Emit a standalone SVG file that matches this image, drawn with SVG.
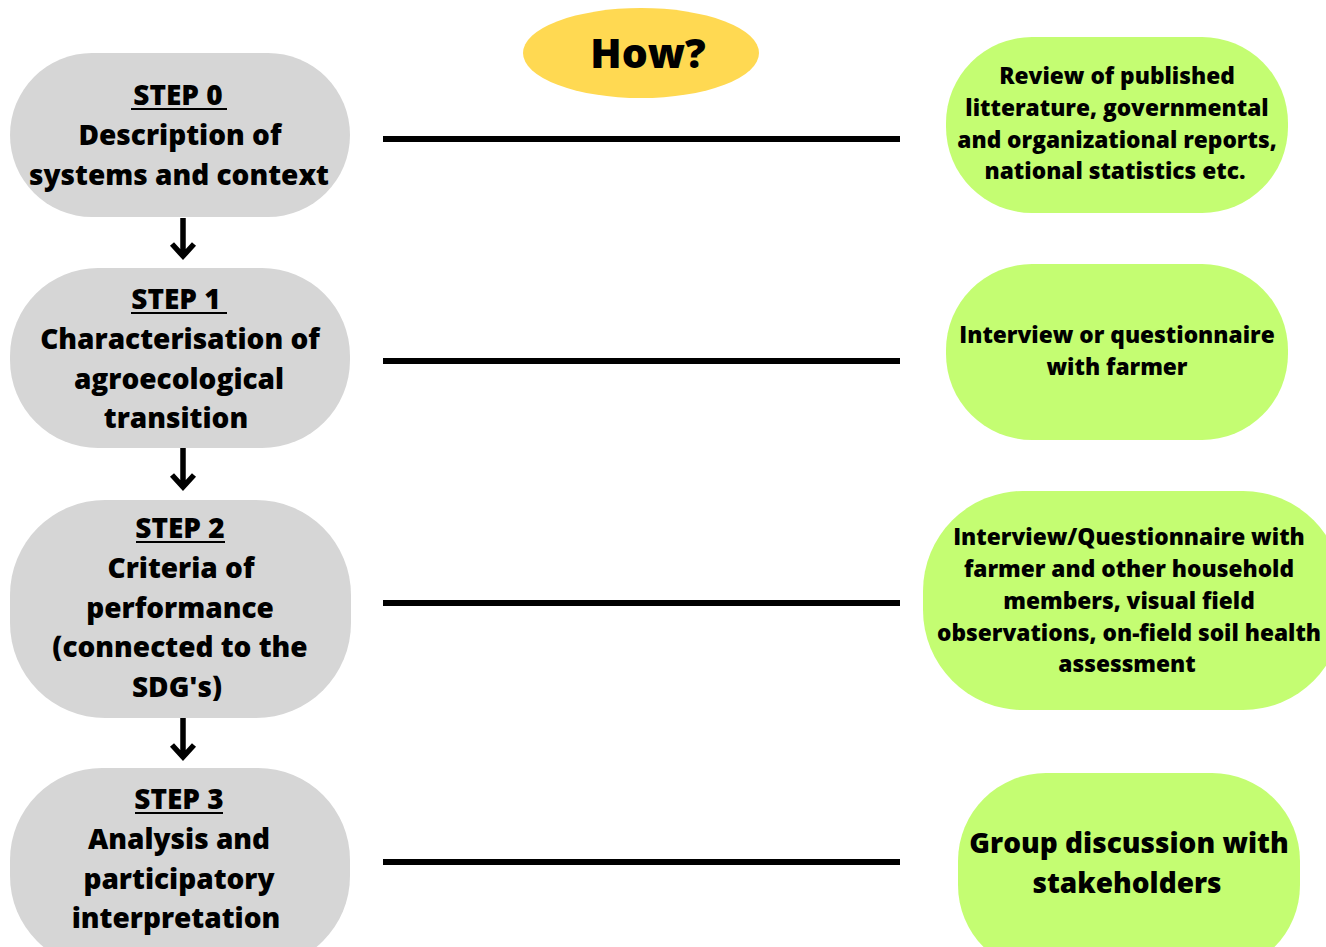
<svg xmlns="http://www.w3.org/2000/svg" width="1326" height="947" viewBox="0 0 1326 947">
<style>
text{font-family:"Open Sans","DejaVu Sans",sans-serif;font-weight:800;fill:#000;text-anchor:middle}
.st{font-size:28px}
.rt{font-size:22.7px}
.big{font-size:28px}
.step{fill:#d6d6d6}
.meth{fill:#c4fd72}
.ul{stroke:#000;stroke-width:2}
.link{stroke:#000;stroke-width:6}
.arr{stroke:#000;stroke-width:5.5;fill:none;stroke-linecap:butt}
</style>
<rect width="1326" height="947" fill="#fff"/>
<g id="how">
<ellipse cx="641" cy="53" rx="118" ry="45" fill="#ffd952"/>
<text x="648" y="68" style="font-size:41px">How?</text>
</g>
<g id="step0">
<rect class="step" x="10" y="53" width="340" height="164" rx="82" fill="#dadada"/>
<text class="st" x="178" y="105">STEP 0</text>
<line class="ul" x1="131" y1="109" x2="227" y2="109"/>
<text class="st" x="180" y="145">Description of</text>
<text class="st" x="179" y="185">systems and context</text>
</g>
<g id="step1">
<rect class="step" x="10" y="268" width="340" height="180" rx="88"/>
<text class="st" x="176" y="309">STEP 1</text>
<line class="ul" x1="131" y1="313" x2="227" y2="313"/>
<text class="st" x="180" y="349">Characterisation of</text>
<text class="st" x="179" y="389">agroecological</text>
<text class="st" x="176" y="428">transition</text>
</g>
<g id="step2">
<rect class="step" x="10" y="500" width="341" height="218" rx="95"/>
<text class="st" x="180" y="538">STEP 2</text>
<line class="ul" x1="136" y1="542" x2="225" y2="542"/>
<text class="st" x="181" y="578">Criteria of</text>
<text class="st" x="180" y="618">performance</text>
<text class="st" x="180" y="657">(connected to the</text>
<text class="st" x="177" y="697">SDG's)</text>
</g>
<g id="step3">
<rect class="step" x="10" y="768" width="340" height="200" rx="92"/>
<text class="st" x="179" y="809">STEP 3</text>
<line class="ul" x1="135" y1="813" x2="223" y2="813"/>
<text class="st" x="179" y="849">Analysis and</text>
<text class="st" x="179" y="889">participatory</text>
<text class="st" x="176" y="928">interpretation</text>
</g>
<g id="method0">
<rect class="meth" x="946" y="37" width="342" height="176" rx="86"/>
<text class="rt" x="1117" y="84">Review of published</text>
<text class="rt" x="1117" y="116">litterature, governmental</text>
<text class="rt" x="1117" y="148">and organizational reports,</text>
<text class="rt" x="1115" y="179">national statistics etc.</text>
</g>
<g id="method1">
<rect class="meth" x="946" y="264" width="342" height="176" rx="86"/>
<text class="rt" x="1117" y="343">Interview or questionnaire</text>
<text class="rt" x="1117" y="375">with farmer</text>
</g>
<g id="method2">
<rect class="meth" x="923" y="491" width="420" height="219" rx="100"/>
<text class="rt" x="1129" y="545">Interview/Questionnaire with</text>
<text class="rt" x="1129" y="577">farmer and other household</text>
<text class="rt" x="1129" y="609">members, visual field</text>
<text class="rt" x="1129" y="641">observations, on-field soil health</text>
<text class="rt" x="1127" y="672">assessment</text>
</g>
<g id="method3">
<rect class="meth" x="958" y="773" width="342" height="200" rx="88"/>
<text class="big" x="1129" y="853">Group discussion with</text>
<text class="big" x="1127" y="893">stakeholders</text>
</g>
<g id="connectors">
<line class="link" x1="383" y1="139" x2="900" y2="139"/>
<line class="link" x1="383" y1="361" x2="900" y2="361"/>
<line class="link" x1="383" y1="603" x2="900" y2="603"/>
<line class="link" x1="383" y1="862" x2="900" y2="862"/>
<path class="arr" d="M183 218 V256 M172 244 L183 256 L194 244"/>
<path class="arr" d="M183 448 V487 M172 475 L183 487 L194 475"/>
<path class="arr" d="M183 718 V757 M172 745 L183 757 L194 745"/>
</g>
</svg>
